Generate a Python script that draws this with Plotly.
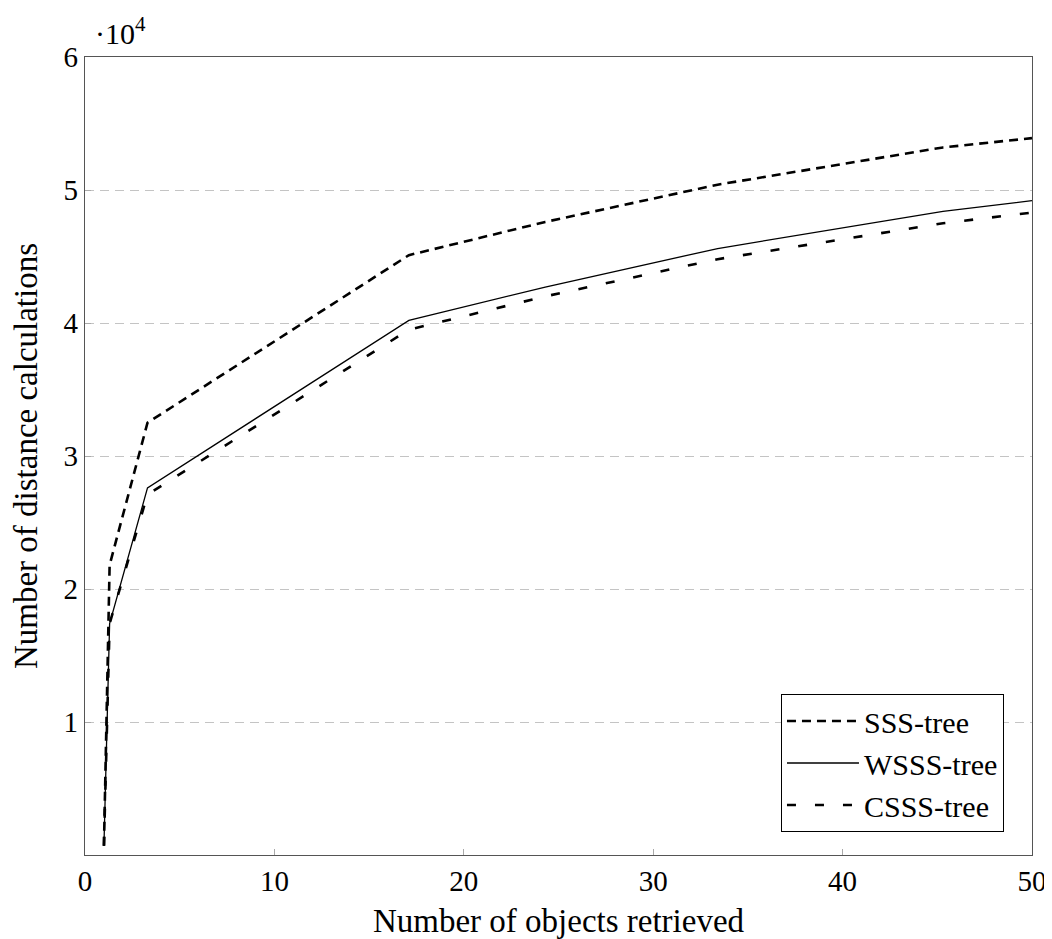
import plotly.graph_objects as go

x_vals = [1, 1.3, 3.3, 17.1, 24.3, 33.4, 45.3, 50]
sss = [700, 21800, 32500, 45100, 47600, 50400, 53200, 53900]
wsss = [700, 17400, 27600, 40200, 42700, 45600, 48400, 49200]
csss = [700, 17400, 27100, 39500, 42000, 44800, 47500, 48300]

y_ticks = [10000, 20000, 30000, 40000, 50000, 60000]
y_labels = ["1", "2", "3", "4", "5", "6"]
x_ticks = [0, 10, 20, 30, 40, 50]

FONT = "Liberation Serif"

fig = go.Figure()
fig.add_trace(go.Scatter(x=x_vals, y=sss, mode="lines", name="SSS-tree",
                         line=dict(color="black", width=2.6, dash="9px,6px")))
fig.add_trace(go.Scatter(x=x_vals, y=wsss, mode="lines", name="WSSS-tree",
                         line=dict(color="black", width=1.3)))
fig.add_trace(go.Scatter(x=x_vals, y=csss, mode="lines", name="CSSS-tree",
                         line=dict(color="black", width=2.6, dash="9px,19px")))

fig.update_layout(
    width=1044, height=931,
    margin=dict(l=77, r=20, t=49, b=84, autoexpand=False),
    plot_bgcolor="white", paper_bgcolor="white",
    font=dict(family=FONT, size=29, color="black"),
    showlegend=True,
    legend=dict(x=0.9704, y=0.0288, xanchor="right", yanchor="bottom",
                bordercolor="black", borderwidth=1, bgcolor="white",
                font=dict(size=30), itemwidth=72, tracegroupgap=0),
)
fig.update_xaxes(range=[0, 50], tickvals=x_ticks, ticks="inside", ticklen=6,
                 tickcolor="#aaaaaa", showgrid=False, zeroline=False,
                 showline=True, linecolor="#555555", linewidth=1.3, mirror=True,
                 title=dict(text="Number of objects retrieved", standoff=13,
                            font=dict(size=33)),
                 tickfont=dict(size=29))
fig.update_yaxes(range=[0, 60000], tickvals=y_ticks, ticktext=y_labels,
                 ticks="inside", ticklen=6, tickcolor="#aaaaaa",
                 showgrid=True, gridcolor="#c4c4c4", griddash="9px,6px", gridwidth=1,
                 zeroline=False, showline=True, linecolor="#555555", linewidth=1.3,
                 mirror=True,
                 title=dict(text="Number of distance calculations", standoff=16,
                            font=dict(size=33)),
                 tickfont=dict(size=29))

fig.add_annotation(xref="paper", yref="paper", x=0.008, y=1.0, yshift=5,
                   xanchor="left", yanchor="bottom", showarrow=False,
                   text="·10<sup>4</sup>", font=dict(size=30, family=FONT))

fig.write_html("out.html")
